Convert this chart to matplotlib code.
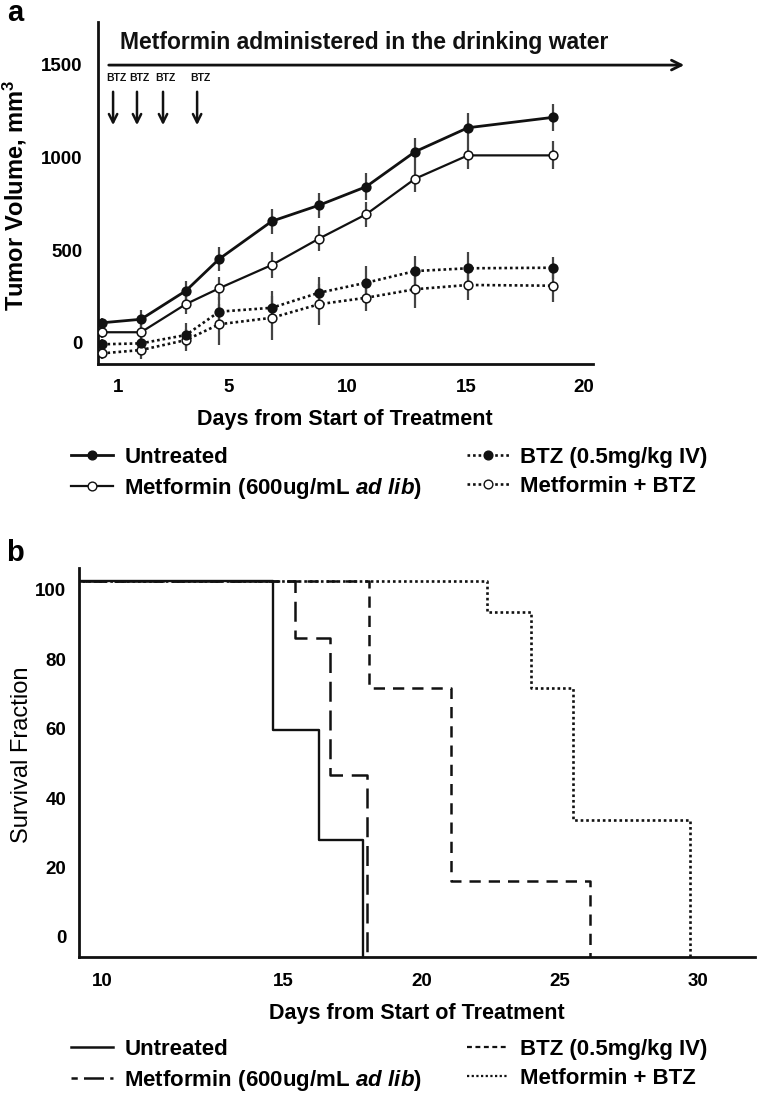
import matplotlib
matplotlib.use('Agg')
import matplotlib.pyplot as plt
from matplotlib.lines import Line2D

plt.rcParams['font.family'] = ['Liberation Sans', 'DejaVu Sans']
plt.rcParams['mathtext.fontset'] = 'custom'
plt.rcParams['mathtext.rm'] = 'Liberation Sans:bold'
plt.rcParams['mathtext.it'] = 'Liberation Sans:bold:italic'
plt.rcParams['mathtext.bf'] = 'Liberation Sans:bold'

# ---------------- data: panel a (tumor volume) ----------------
days_a = [-0.37, 1.28, 3.18, 4.58, 6.81, 8.80, 10.79, 12.86, 15.09, 18.68]
untreated = [109, 128, 282, 453, 657, 743, 843, 1032, 1161, 1217]
untreated_err = [25, 50, 55, 67, 67, 67, 72, 74, 78, 74]
metformin = [58, 58, 210, 295, 421, 563, 694, 886, 1012, 1012]
metformin_err = [30, 40, 54, 63, 72, 67, 67, 72, 74, 76]
btz = [-7, -2, 43, 169, 190, 271, 325, 388, 403, 406]
btz_err = [30, 45, 63, 80, 90, 85, 90, 80, 90, 60]
combo = [-56, -38, 16, 101, 136, 209, 244, 290, 313, 309]
combo_err = [30, 50, 60, 110, 120, 110, 70, 100, 80, 90]
btz_dose_days = [0.1, 1.11, 2.21, 3.65]
xticks_a = [0.3, 5, 10, 15, 20]
xticklabels_a = ['1', '5', '10', '15', '20']
yticks_a = [0, 500, 1000, 1500]

# ---------------- data: panel b (survival) ----------------
surv_untreated_t = [0, 14.64, 16.30, 17.90]
surv_untreated = [102.5, 59.7, 28.0, -5.8]
surv_metformin_t = [0, 15.43, 16.70, 18.03]
surv_metformin = [102.5, 86.2, 46.7, -5.8]
surv_btz_t = [0, 18.10, 21.05, 26.10]
surv_btz = [102.5, 71.6, 16.0, -5.8]
surv_combo_t = [0, 22.35, 23.97, 25.47, 29.70]
surv_combo = [102.5, 93.6, 71.6, 33.7, -5.8]
xticks_b = [8.47, 15, 20, 25, 30]
xticklabels_b = ['10', '15', '20', '25', '30']
yticks_b = [0, 20, 40, 60, 80, 100]

labels = ['Untreated', r'Metformin (600ug/mL $\it{ad\ lib}$)',
          'BTZ (0.5mg/kg IV)', 'Metformin + BTZ']

W, H = 758, 1098
fig = plt.figure(figsize=(W / 100, H / 100), dpi=100)


def rect(l, t, r, b):
    return [l / W, 1 - b / H, (r - l) / W, (b - t) / H]


def fx(px):
    return px / W


def fy(py):
    return 1 - py / H


K = '#111111'
EC = '#444444'

# ================= panel a =================
ax = fig.add_axes(rect(98, 22, 593, 364))
ax.set_xlim(-0.537, 20.376)
ax.set_ylim(-113.3, 1731.4)
for s in ['top', 'right']:
    ax.spines[s].set_visible(False)
for s in ['left', 'bottom']:
    ax.spines[s].set_linewidth(2.0)
    ax.spines[s].set_color(K)

dot = (0, (1, 1.1))
series = [
    (combo, combo_err, dot, 'white', 1.9),
    (btz, btz_err, dot, K, 1.9),
    (metformin, metformin_err, '-', 'white', 1.6),
    (untreated, untreated_err, '-', K, 2.0),
]
for vals, err, ls, mfc, lw in series:
    ax.errorbar(days_a, vals, yerr=err, fmt='none', ecolor=EC, elinewidth=1.6,
                capsize=0, zorder=2)
    ax.plot(days_a, vals, linestyle=ls, color=K, lw=lw, marker='o',
            markersize=6.3, markerfacecolor=mfc, markeredgecolor=K,
            markeredgewidth=1.1, zorder=3)

ax.set_xticks(xticks_a)
ax.set_xticklabels(xticklabels_a)
ax.set_yticks(yticks_a)
ax.tick_params(length=0, labelsize=13.5, pad=11)
for t in ax.get_xticklabels() + ax.get_yticklabels():
    t.set_fontweight('bold')

# metformin arrow
ax.annotate('', xy=(24.35, 1499), xytext=(-0.2, 1499),
            arrowprops=dict(arrowstyle='->,head_length=0.7,head_width=0.35',
                            lw=2.0, color=K),
            annotation_clip=False)
fig.text(fx(364), fy(43), 'Metformin administered in the drinking water',
         ha='center', va='center', fontsize=16.5, fontweight='bold', color=K)
for d in btz_dose_days:
    ax.annotate('', xy=(d, 1160), xytext=(d, 1370),
                arrowprops=dict(arrowstyle='->,head_length=0.6,head_width=0.3',
                                lw=1.8, color=K),
                annotation_clip=False)
    ax.text(d + 0.12, 1429, 'BTZ', ha='center', va='center', fontsize=7.5,
            fontweight='bold', color=K)

fig.text(fx(15), fy(13), 'a', ha='center', va='center', fontsize=21,
         fontweight='bold')
fig.text(fx(15), fy(195), 'Tumor Volume, mm$^\\mathregular{3}$', rotation=90,
         ha='center', va='center', fontsize=17, fontweight='bold')
fig.text(fx(345), fy(420), 'Days from Start of Treatment', ha='center',
         va='center', fontsize=15.5, fontweight='bold')

handles_a = [
    Line2D([], [], color=K, lw=2.0, marker='o', ms=6.3, mfc=K, mec=K),
    Line2D([], [], color=K, lw=1.6, marker='o', ms=6.3, mfc='white', mec=K),
    Line2D([], [], color=K, lw=1.9, ls=dot, marker='o', ms=6.3, mfc=K, mec=K),
    Line2D([], [], color=K, lw=1.9, ls=dot, marker='o', ms=6.3, mfc='white', mec=K),
]
fig.legend(handles_a, labels, loc='center left',
           bbox_to_anchor=(fx(71), fy(474)), ncol=2, frameon=False,
           borderpad=0, borderaxespad=0, handlelength=1.9,
           handletextpad=0.5, columnspacing=2.0, labelspacing=0.38,
           prop={'size': 16, 'weight': 'bold'})

# ================= panel b =================
bx = fig.add_axes(rect(79, 568, 755, 957))
bx.set_xlim(7.635, 32.04)
bx.set_ylim(-5.8, 106.3)
for s in ['top', 'right']:
    bx.spines[s].set_visible(False)
for s in ['left', 'bottom']:
    bx.spines[s].set_linewidth(2.0)
    bx.spines[s].set_color(K)

styles_b = [
    (surv_combo_t, surv_combo, (0, (1, 1.1)), 1.9),
    (surv_btz_t, surv_btz, (0, (4.5, 3.2)), 1.8),
    (surv_metformin_t, surv_metformin, (0, (8, 3.5)), 1.8),
    (surv_untreated_t, surv_untreated, '-', 1.7),
]
for t, s, ls, lw in styles_b:
    bx.step(t, s, where='post', color=K, lw=lw, linestyle=ls)

bx.set_xticks(xticks_b)
bx.set_xticklabels(xticklabels_b)
bx.set_yticks(yticks_b)
bx.tick_params(axis='x', length=0, labelsize=13.5, pad=11.5)
bx.tick_params(axis='y', length=0, labelsize=13.5, pad=9)
for t in bx.get_xticklabels() + bx.get_yticklabels():
    t.set_fontweight('bold')

fig.text(fx(15), fy(553), 'b', ha='center', va='center', fontsize=21,
         fontweight='bold')
fig.text(fx(22), fy(755), 'Survival Fraction', rotation=90, ha='center',
         va='center', fontsize=17)
fig.text(fx(417), fy(1014), 'Days from Start of Treatment', ha='center',
         va='center', fontsize=15.5, fontweight='bold')

handles_b = [
    Line2D([], [], color=K, lw=1.8, ls='-'),
    Line2D([], [], color=K, lw=1.8, ls=(0, (2.5, 2.5, 8, 2.5))),
    Line2D([], [], color=K, lw=1.6, ls=(0, (2.2, 1.6))),
    Line2D([], [], color=K, lw=1.6, ls=(0, (1, 1.1))),
]
fig.legend(handles_b, labels, loc='center left',
           bbox_to_anchor=(fx(71), fy(1066)), ncol=2, frameon=False,
           borderpad=0, borderaxespad=0, handlelength=1.9,
           handletextpad=0.5, columnspacing=2.0, labelspacing=0.38,
           prop={'size': 16, 'weight': 'bold'})

fig.savefig('out.png', dpi=100)
